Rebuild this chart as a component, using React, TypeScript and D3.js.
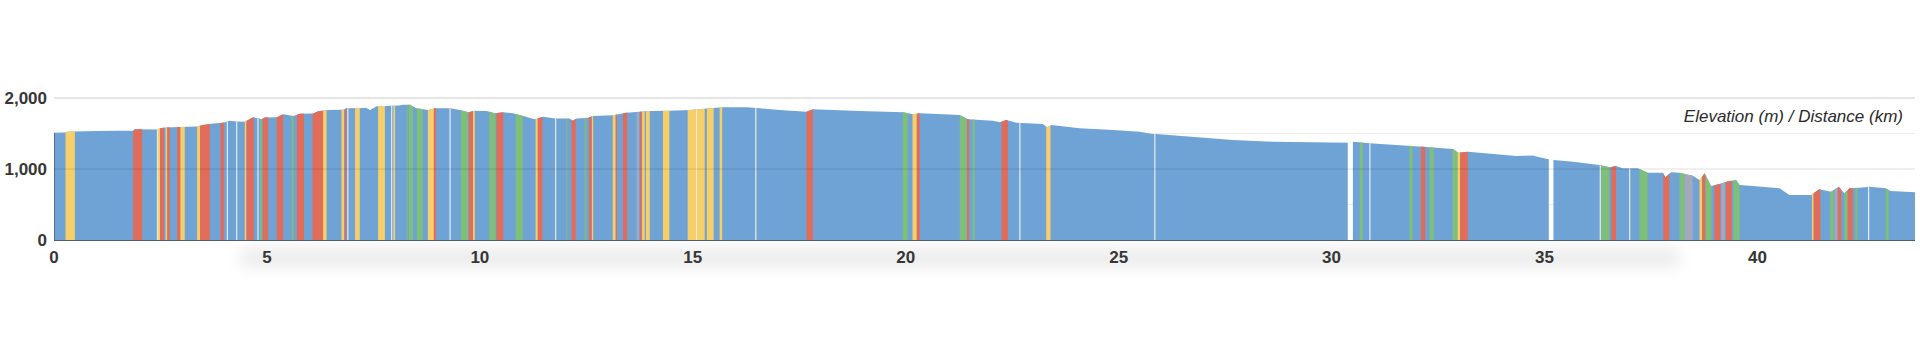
import React from "react";
import * as d3 from "d3";

// ---- data ----
const distanceKm: number[] = [
  0, 0.26, 0.3, 0.49, 1.0, 1.5, 1.86, 1.9, 2.4, 2.5, 2.6, 2.96, 3.35, 3.5, 3.74, 3.97, 4.13, 4.28, 4.48, 4.68,
  4.8, 4.87, 4.95, 5.23, 5.38, 5.62, 5.77, 6.09, 6.2, 6.44, 6.79, 6.87, 7.34, 7.42, 7.58, 8.1, 8.2, 8.36,
  8.51, 8.79, 8.94, 9.3, 9.53, 9.73, 9.88, 10.16, 10.35, 10.55, 10.78, 11.02, 11.29, 11.49, 11.76, 12.11,
  12.18, 12.27, 12.54, 12.66, 13.13, 13.44, 13.99, 14.46, 14.93, 15.4, 15.71, 16.26, 16.57, 17.04, 17.67,
  17.82, 18.92, 19.94, 20.17, 20.33, 21.27, 21.46, 22.05, 22.21, 22.36, 22.6, 23.22, 23.32, 23.42, 24.08,
  24.87, 25.49, 25.8, 25.88, 27.68, 28.62, 30.38, 30.44, 30.5, 30.89, 32.14, 32.85, 32.97, 33.2, 34.34,
  34.72, 34.88, 35.1, 35.15, 35.21, 35.67, 36.29, 36.53, 36.68, 36.84, 37.19, 37.42, 37.78, 37.84, 37.97,
  38.17, 38.48, 38.64, 38.76, 38.91, 39.11, 39.27, 39.5, 39.58, 39.89, 40.52, 40.75, 41.26, 41.45, 41.73,
  41.91, 42.04, 42.16, 42.39, 42.63, 43.01, 43.13, 43.7,
];
const elevationM: (number | null)[] = [
  1511, 1515, 1525, 1528, 1535, 1540, 1538, 1560, 1558, 1575, 1585, 1592, 1600, 1620, 1640, 1650, 1680, 1668, 1664, 1728,
  1715, 1700, 1725, 1728, 1770, 1748, 1779, 1780, 1815, 1831, 1833, 1855, 1858, 1832, 1885, 1895, 1905, 1905,
  1855, 1831, 1855, 1855, 1831, 1798, 1822, 1817, 1784, 1798, 1784, 1746, 1700, 1737, 1713, 1713,
  1681, 1713, 1723, 1746, 1756, 1793, 1817, 1822, 1831, 1855, 1869, 1869, 1855, 1831, 1808,
  1840, 1817, 1798, 1770, 1784, 1760, 1700, 1681, 1657, 1690, 1652, 1634, 1587, 1620, 1573,
  1549, 1525, 1493, 1493, 1408, 1385, 1370, null, 1385, 1362, 1314, 1282, 1230, 1244, 1183,
  1190, 1165, 1136, null, 1127, 1103, 1056, 1024, 1042, 1010, 1010, 948, 948, 883, 955,
  948, 905, 845, 939, 760, 789, 821, 845, 775, 760, 728, 634, 634, 714, 681,
  751, 657, 728, 737, 751, 728, 690, 672,
];

// surface bands: start km, end km, type (R red, Y yellow, G green, S grey, L light line)
const bandStart: number[] = [
  0.27, 1.86, 2.43, 2.44, 2.49, 2.62, 2.66, 2.89, 2.97, 3.36, 3.43, 3.91, 4.07, 4.29, 4.48, 4.52, 4.79, 4.84, 4.9,
  5.23, 5.58, 5.7, 6.07, 6.32, 6.75, 6.83, 6.9, 7.07, 7.61, 7.93, 7.97, 8.28, 8.33, 8.52, 8.78, 8.92, 9.3, 9.55,
  9.74, 9.84, 10.22, 10.39, 10.84, 11.31, 11.36, 11.78, 12.03, 12.15, 12.46, 12.56, 12.63, 13.12, 13.19, 13.36,
  13.68, 13.76, 13.81, 13.9, 14.3, 14.88, 15.09, 15.1, 15.33, 15.63, 16.48, 17.67, 19.93, 20.16, 20.26, 21.27,
  21.44, 21.57, 22.25, 22.68, 23.3, 25.85, 30.66, 30.9, 31.83, 32.1, 32.3, 32.84, 32.96, 33.02, 36.31, 36.33,
  36.57, 37.0, 37.23, 37.79, 38.17, 38.29, 38.64, 38.7, 38.78, 38.99, 39.15, 39.26, 39.44, 41.28, 41.32, 41.71,
  41.81, 41.89, 42.04, 42.12, 42.3, 42.61, 43.01,
];
const bandEnd: number[] = [
  0.49, 2.07, 2.43, 2.49, 2.58, 2.66, 2.72, 2.97, 3.07, 3.43, 3.66, 3.99, 4.07, 4.29, 4.52, 4.69, 4.79, 4.88, 5.03,
  5.38, 5.62, 5.87, 6.32, 6.4, 6.81, 6.87, 6.9, 7.18, 7.77, 7.93, 8.01, 8.3, 8.43, 8.66, 8.92, 8.97, 9.3, 9.72,
  9.84, 9.88, 10.37, 10.55, 11.01, 11.36, 11.47, 11.78, 12.05, 12.25, 12.5, 12.63, 12.66, 13.19, 13.22, 13.46,
  13.74, 13.8, 13.87, 13.99, 14.45, 15.09, 15.09, 15.28, 15.49, 15.69, 16.48, 17.82, 20.05, 20.26, 20.33, 21.43,
  21.49, 21.62, 22.4, 22.68, 23.4, 25.85, 30.73, 30.9, 31.9, 32.2, 32.4, 32.96, 33.02, 33.2, 36.31, 36.52,
  36.68, 37.0, 37.42, 37.93, 38.29, 38.48, 38.7, 38.78, 38.92, 39.13, 39.24, 39.4, 39.58, 41.32, 41.48, 41.79,
  41.88, 41.97, 42.12, 42.24, 42.35, 42.65, 43.08,
];
const bandType: string[] = [
  "Y", "R", "L", "Y", "R", "Y", "R", "R", "Y", "Y", "R", "R", "L", "L", "Y", "R", "L", "G", "R",
  "R", "G", "R", "R", "Y", "Y", "R", "L", "Y", "Y", "L", "Y", "G", "G", "G", "Y", "R", "L", "G",
  "R", "Y", "G", "R", "G", "Y", "R", "L", "G", "R", "G", "R", "Y", "Y", "R", "R",
  "S", "R", "Y", "Y", "Y", "Y", "L", "Y", "Y", "Y", "L", "R", "G", "Y", "R", "G",
  "R", "G", "R", "L", "Y", "L", "G", "L", "G", "R", "G", "G", "Y", "R", "L", "G",
  "R", "L", "G", "R", "G", "S", "Y", "R", "G", "R", "S", "R", "G", "Y", "R", "G",
  "S", "R", "G", "R", "G", "L", "G",
];

const yTicks: number[] = [0, 1000, 2000];
const yMinorGrid: number[] = [500, 1500];
const xTicks: number[] = [0, 5, 10, 15, 20, 25, 30, 35, 40];
const chartTitle = "Elevation (m) / Distance (km)";

const COLORS: Record<string, string> = {
  B: "#6fa3d5",
  R: "#e26c5a",
  Y: "#f7cf68",
  G: "#7ebf79",
  S: "#a4a8bd",
  L: "#e4ecf2",
};

const FONT = "'Liberation Sans', Arial, Helvetica, sans-serif";

export default function App() {
  const left = 54;
  const right = 1915;
  const top = 98;
  const bottom = 240;

  const x = d3.scaleLinear().domain([0, 43.7]).range([left, right]);
  const y = d3.scaleLinear().domain([0, 2000]).range([bottom, top]);

  const pts = distanceKm.map((k, i) => ({ k, e: elevationM[i] }));
  const area = d3
    .area<{ k: number; e: number | null }>()
    .defined((d) => d.e != null)
    .x((d) => x(d.k))
    .y0(y(0))
    .y1((d) => y(d.e as number));
  const areaPath = area(pts) || "";

  const fmt = d3.format(",");

  return (
    <svg
      width={1920}
      height={357}
      style={{ position: "absolute", left: 0, top: 0, display: "block" }}
      xmlns="http://www.w3.org/2000/svg"
    >
      <defs>
        <clipPath id="profileClip">
          <path d={areaPath} />
        </clipPath>
        <filter id="shadowBlur" x="-20%" y="-200%" width="140%" height="500%">
          <feGaussianBlur stdDeviation="8" />
        </filter>
      </defs>
      <rect x={0} y={0} width={1920} height={357} fill="#ffffff" />

      {/* soft shadow below axis */}
      <rect x={240} y={248} width={1440} height={20} fill="#000" opacity={0.075} filter="url(#shadowBlur)" />

      {/* grid lines below area */}
      {yMinorGrid.map((v) => (
        <line key={"mg" + v} x1={left} x2={right} y1={y(v)} y2={y(v)} stroke="#ececec" strokeWidth={1} />
      ))}
      <line x1={left} x2={right} y1={y(2000)} y2={y(2000)} stroke="#cccccc" strokeWidth={1} />

      {/* elevation area */}
      <path d={areaPath} fill={COLORS.B} />
      <g clipPath="url(#profileClip)">
        {bandStart.map((s, i) => {
          const t = bandType[i];
          const x0 = x(s);
          const x1 = x(bandEnd[i]);
          const w = t === "L" ? 1.2 : Math.max(1, x1 - x0);
          return (
            <rect
              key={"b" + i}
              x={t === "L" ? x0 - 0.6 : x0}
              y={top - 10}
              width={w}
              height={bottom - top + 10}
              fill={COLORS[t]}
            />
          );
        })}
        <line x1={left + 0.5} x2={left + 0.5} y1={top} y2={bottom} stroke="#4f6f92" strokeWidth={1} />
      </g>

      {/* 1000 grid over area */}
      <line x1={left} x2={right} y1={y(1000)} y2={y(1000)} stroke="#000" strokeOpacity={0.13} strokeWidth={1} />

      {/* x axis line */}
      <line x1={left} x2={right} y1={bottom + 0.5} y2={bottom + 0.5} stroke="#4e5d70" strokeWidth={1.2} />

      {/* y tick labels */}
      {yTicks.map((v) => (
        <text
          key={"yt" + v}
          x={47}
          y={y(v)}
          dy="0.36em"
          textAnchor="end"
          fontFamily={FONT}
          fontWeight="bold"
          fontSize={17}
          fill="#363636"
        >
          {fmt(v)}
        </text>
      ))}

      {/* x tick labels */}
      {xTicks.map((v) => (
        <text
          key={"xt" + v}
          x={x(v)}
          y={263}
          textAnchor="middle"
          fontFamily={FONT}
          fontWeight="bold"
          fontSize={17}
          fill="#363636"
        >
          {v}
        </text>
      ))}

      {/* title */}
      <text
        x={1903}
        y={122}
        textAnchor="end"
        fontFamily={FONT}
        fontStyle="italic"
        fontSize={17}
        fill="#2a2a2a"
      >
        {chartTitle}
      </text>
    </svg>
  );
}
